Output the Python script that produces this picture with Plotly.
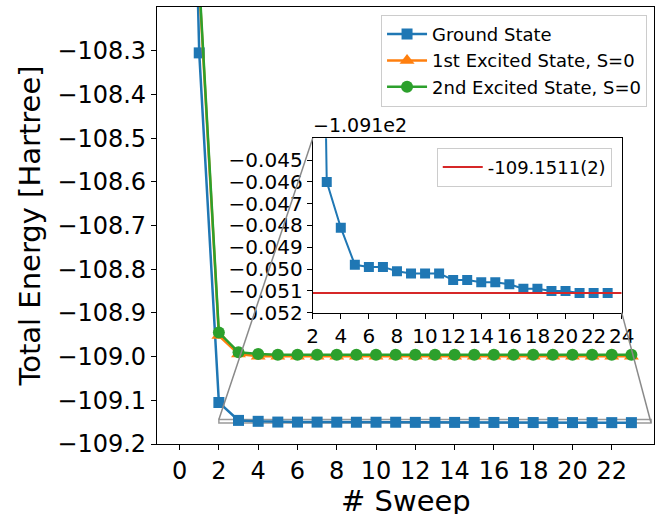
import plotly.graph_objects as go

# ---------------- data ----------------
sweeps = list(range(0, 24))
ground = [-106.5, -108.305, -109.105, -109.1460, -109.1481, -109.1498, -109.1499, -109.1499,
          -109.1501, -109.1502, -109.1502, -109.1502, -109.1505, -109.1505, -109.1506,
          -109.1506, -109.1507, -109.1509, -109.1509, -109.1510, -109.1510, -109.1511,
          -109.1511, -109.1511]
excited1 = [-106.5, -108.15, -108.952, -108.994] + [-108.999] * 20
excited2 = [-106.4, -108.14, -108.945, -108.990, -108.994] + [-108.996] * 19
reference_energy = -109.1511
reference_label = "-109.1511(2)"

main_xticks = list(range(0, 23, 2))
main_yticks = [-109.2, -109.1, -109.0, -108.9, -108.8, -108.7, -108.6, -108.5, -108.4, -108.3]
inset_xticks = list(range(2, 25, 2))
inset_yticks_rel = [-0.052, -0.051, -0.050, -0.049, -0.048, -0.047, -0.046, -0.045]
inset_offset = -109.1
offset_label = "\u22121.091e2"
x_title = "# Sweep"
y_title = "Total Energy [Hartree]"

# ---------------- style ----------------
BLUE, ORANGE, GREEN, RED = "#1f77b4", "#ff7f0e", "#2ca02c", "#d62728"
FONT = "DejaVu Sans"
main_xr = [-1.15, 24.15]
main_yr = [-109.2, -108.2]
inset_xr = [2, 24]
inset_yr = [-109.152, -109.144]
inset_dx = [0.3133, 0.935]
inset_dy = [0.3005, 0.6995]

def fmt(v, nd):
    s = f"{abs(v):.{nd}f}"
    return ("\u2212" + s) if v < 0 else s

fig = go.Figure()
fig.add_trace(go.Scatter(x=sweeps, y=ground, mode="lines+markers", name="Ground State",
                         line=dict(color=BLUE, width=2.5),
                         marker=dict(symbol="square", size=11, color=BLUE)))
fig.add_trace(go.Scatter(x=sweeps, y=excited1, mode="lines+markers", name="1st Excited State, S=0",
                         line=dict(color=ORANGE, width=2.5),
                         marker=dict(symbol="triangle-up", size=13, color=ORANGE)))
fig.add_trace(go.Scatter(x=sweeps, y=excited2, mode="lines+markers", name="2nd Excited State, S=0",
                         line=dict(color=GREEN, width=2.5),
                         marker=dict(symbol="circle", size=12, color=GREEN)))

# inset
fig.add_trace(go.Scatter(x=sweeps, y=ground, mode="lines+markers", xaxis="x2", yaxis="y2",
                         showlegend=False, line=dict(color=BLUE, width=2),
                         marker=dict(symbol="square", size=10, color=BLUE)))
fig.add_trace(go.Scatter(x=inset_xr, y=[reference_energy] * 2, mode="lines", xaxis="x2", yaxis="y2",
                         name=reference_label, legend="legend2",
                         line=dict(color=RED, width=2)))

axis_common = dict(showgrid=False, zeroline=False, showline=True, linecolor="black", linewidth=1.2,
                   mirror=True, ticks="outside", ticklen=5, tickwidth=1.2, tickcolor="black",
                   automargin=False)

fig.update_layout(
    width=663, height=514,
    margin=dict(l=157, r=9, t=7, b=70, autoexpand=False),
    paper_bgcolor="white", plot_bgcolor="white",
    font=dict(family=FONT, color="black"),
    xaxis=dict(domain=[0, 1], range=main_xr, tickvals=main_xticks,
               tickfont=dict(size=24, color="black"), **axis_common),
    yaxis=dict(domain=[0, 1], range=main_yr, tickvals=main_yticks,
               ticktext=[fmt(v, 1) for v in main_yticks],
               tickfont=dict(size=24, color="black"),
               title=dict(text=y_title, font=dict(size=29, color="black"), standoff=8),
               **axis_common),
    xaxis2=dict(domain=inset_dx, range=inset_xr, anchor="y2", tickvals=inset_xticks,
                tickfont=dict(size=20, color="black"), **axis_common),
    yaxis2=dict(domain=inset_dy, range=inset_yr, anchor="x2",
                tickvals=[inset_offset + v for v in inset_yticks_rel],
                ticktext=[fmt(v, 3) for v in inset_yticks_rel],
                tickfont=dict(size=20, color="black"), **axis_common),
    legend=dict(x=0.986, y=0.982, xanchor="right", yanchor="top",
                bgcolor="rgba(255,255,255,0.8)", bordercolor="#cccccc", borderwidth=1,
                font=dict(size=18, color="black", family=FONT), itemwidth=40,
                tracegroupgap=0),
    legend2=dict(x=0.915, y=0.678, xanchor="right", yanchor="top",
                 bgcolor="rgba(255,255,255,0.8)", bordercolor="#cccccc", borderwidth=1,
                 font=dict(size=18, color="black", family=FONT), itemwidth=40),
    showlegend=True,
)

# x-axis title (placed as annotation for exact position)
fig.add_annotation(x=0.5, y=-0.1304, xref="paper", yref="paper", text=x_title,
                   showarrow=False, xanchor="center", yanchor="middle",
                   font=dict(size=29, color="black", family=FONT))

# offset text for inset y axis
fig.add_annotation(x=inset_dx[0], y=inset_dy[1], xref="paper", yref="paper",
                   text=offset_label, showarrow=False, xanchor="left", yanchor="bottom",
                   font=dict(size=19, color="black", family=FONT), xshift=-2, yshift=0)

# zoom indicator rectangle on main axes
fig.add_shape(type="rect", xref="x", yref="y", x0=inset_xr[0], x1=inset_xr[1],
              y0=inset_yr[0], y1=inset_yr[1], line=dict(color="#9a9a9a", width=1.5),
              layer="below")

def to_paper_x(v):
    return (v - main_xr[0]) / (main_xr[1] - main_xr[0])

def to_paper_y(v):
    return (v - main_yr[0]) / (main_yr[1] - main_yr[0])

fig.add_shape(type="line", xref="paper", yref="paper",
              x0=inset_dx[0], y0=inset_dy[1],
              x1=to_paper_x(inset_xr[0]), y1=to_paper_y(inset_yr[1]),
              line=dict(color="#8a8a8a", width=1.5))
fig.add_shape(type="line", xref="paper", yref="paper",
              x0=inset_dx[1], y0=inset_dy[0],
              x1=to_paper_x(inset_xr[1]), y1=to_paper_y(inset_yr[0]),
              line=dict(color="#8a8a8a", width=1.5))

fig.write_html("out.html", config={"displayModeBar": False},
               post_script="document.body.style.margin='0px';")
